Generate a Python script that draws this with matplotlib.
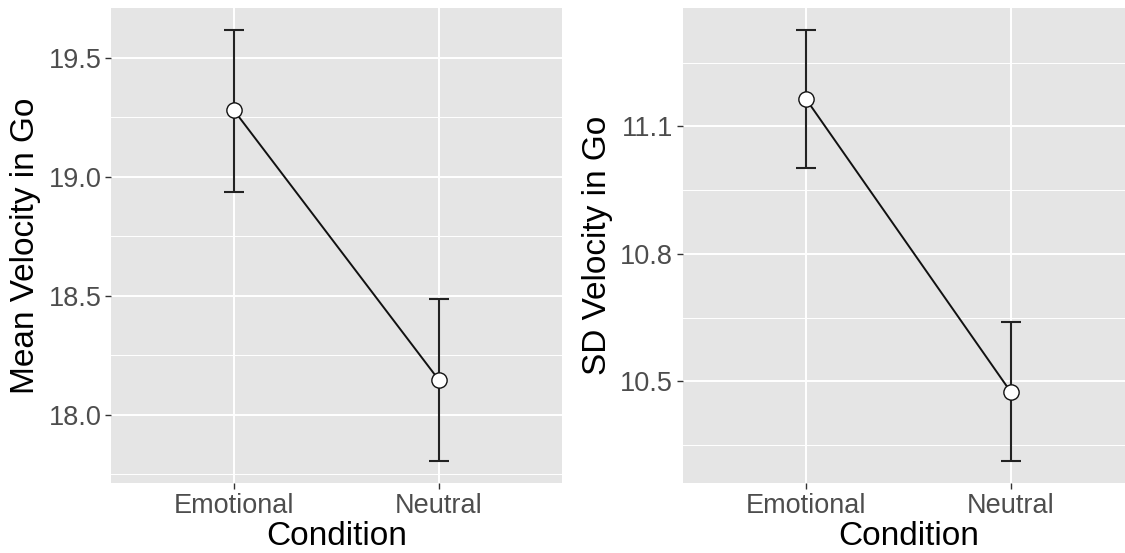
import numpy as np
import matplotlib
matplotlib.use("Agg")
from matplotlib import pyplot as plt
from matplotlib.ticker import FixedLocator

# Condition means with their error bar limits
conditions = ["Emotional", "Neutral"]

meanVelocity = [19.279, 18.145]
meanVelocityLow = [18.936, 17.804]
meanVelocityHigh = [19.619, 18.487]

sdVelocity = [11.165, 10.475]
sdVelocityLow = [11.002, 10.312]
sdVelocityHigh = [11.328, 10.639]

meanTicks = [18.0, 18.5, 19.0, 19.5]
meanMinorTicks = [17.75, 18.25, 18.75, 19.25, 19.75]
sdTicks = [10.5, 10.8, 11.1]
sdMinorTicks = [10.35, 10.65, 10.95, 11.25]

plt.rcParams['font.family'] = ['Liberation Sans', 'DejaVu Sans']

PANEL = "#E5E5E5"
TEXT = "#4D4D4D"


def drawPanel(ax, means, lows, highs, ticks, minorTicks, ylabel, fmt):
    """
    Point with error bar for each condition, joined by a line, in a grey ggplot-like panel.
    """
    x = np.arange(1, len(conditions) + 1)
    means = np.asarray(means)
    lower = means - np.asarray(lows)
    upper = np.asarray(highs) - means

    ax.set_facecolor(PANEL)
    for side in ax.spines.values():
        side.set_visible(False)

    ax.errorbar(x, means, yerr=[lower, upper], fmt="none", ecolor="#222222",
                elinewidth=1.5, capsize=7.5, capthick=1.5, zorder=3)
    ax.plot(x, means, color="#111111", linewidth=1.4, zorder=4)
    ax.plot(x, means, "o", markersize=11, markerfacecolor="white",
            markeredgecolor="#111111", markeredgewidth=1.0, zorder=5)

    # ggplot style expansion: 5% on the continuous axis, 0.6 on the discrete one
    lo, hi = min(lows), max(highs)
    pad = 0.05 * (hi - lo)
    ax.set_ylim(lo - pad, hi + pad)
    ax.set_xlim(0.4, len(conditions) + 0.6)

    ax.set_xticks(x)
    ax.set_xticklabels(conditions)
    ax.set_yticks(ticks)
    ax.set_yticklabels([fmt.format(t) for t in ticks])
    ax.yaxis.set_minor_locator(FixedLocator(minorTicks))

    ax.grid(which="major", color="white", linewidth=1.4)
    ax.grid(which="minor", axis="y", color="white", linewidth=0.7)
    ax.set_axisbelow(True)

    ax.tick_params(which="major", length=4, width=1.0, color="#333333",
                   labelsize=19.5, labelcolor=TEXT, pad=3)
    ax.tick_params(which="minor", length=0)

    ax.set_xlabel("Condition", fontsize=24, color="black", labelpad=1.5)
    ax.set_ylabel(ylabel, fontsize=24, color="black", labelpad=5)


fig = plt.figure(figsize=(11.25, 5.53), dpi=100)

leftAxis = fig.add_axes([0.0987, 0.1266, 0.4009, 0.859])
rightAxis = fig.add_axes([0.607, 0.1266, 0.4009, 0.859])

drawPanel(leftAxis, meanVelocity, meanVelocityLow, meanVelocityHigh,
          meanTicks, meanMinorTicks, "Mean Velocity in Go", "{:.1f}")
drawPanel(rightAxis, sdVelocity, sdVelocityLow, sdVelocityHigh,
          sdTicks, sdMinorTicks, "SD Velocity in Go", "{:.1f}")

fig.savefig("out.png", dpi=100, facecolor="white")
